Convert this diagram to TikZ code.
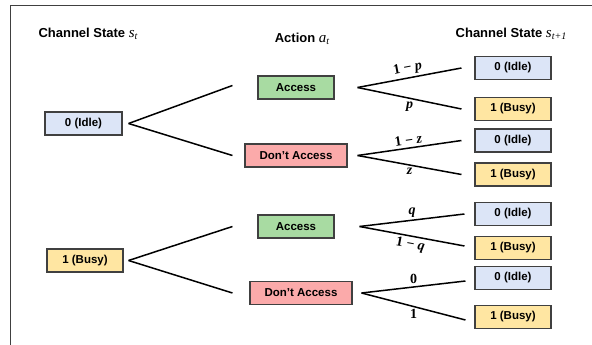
\documentclass[tikz,border=0pt]{standalone}
\usepackage{fontspec}
\setmainfont{Liberation Sans}
\newfontfamily\symbfont{Liberation Serif}

\definecolor{idleblue}{HTML}{DCE5F7}
\definecolor{busyyellow}{HTML}{FFE6A2}
\definecolor{accgreen}{HTML}{A8DBA2}
\definecolor{noaccred}{HTML}{FBAAAA}
\definecolor{edgegray}{HTML}{404040}

% italic symbol with a lowered index
\newcommand{\symbidx}[2]{{\symbfont\itshape\mdseries\fontsize{15}{17}\selectfont #1\raisebox{-0.3ex}{\fontsize{10}{11}\selectfont #2}}}
% numbers and variables on a branch
\newcommand{\probnum}[1]{{\symbfont\bfseries #1}}
\newcommand{\probvar}[1]{{\symbfont\bfseries\itshape #1}}

\tikzset{
    statebox/.style={
        rectangle,
        draw=edgegray, % dark grey outline
        line width=1.1pt,
        minimum width=76pt,
        minimum height=23pt,
        inner sep=0,
        font=\fontsize{11.5}{13}\selectfont\bfseries
    },
    idlenode/.style={statebox, fill=idleblue},
    busynode/.style={statebox, fill=busyyellow},
    accessnode/.style={statebox, fill=accgreen},
    noaccessnode/.style={statebox, fill=noaccred, minimum width=102pt},
    titlenode/.style={font=\fontsize{13}{15}\selectfont\bfseries, inner sep=0},
    branch/.style={line width=1.5pt},
    problabel/.style={font=\fontsize{14}{16}\selectfont, inner sep=2.5pt}
}

\begin{document}
\begin{tikzpicture}[x=1pt, y=-1pt]
    \useasboundingbox (0,0) rectangle (592,345);
    % frame on top and left
    \draw[edgegray, line width=1pt] (592,6) -- (10,6) -- (10,345);

    % column titles
    \node[titlenode] (tstate) at (88,34) {Channel State \symbidx{s}{t}};
    \node[titlenode] (taction) at (302,39) {Action \symbidx{a}{t}};
    \node[titlenode] (tnext) at (511,34) {Channel State \symbidx{s}{t+1}};

    % current state
    \node[idlenode, minimum width=77pt] (s0) at (83.5,123.5) {0 (Idle)};
    \node[busynode] (s1) at (85,260.5) {1 (Busy)};

    % actions
    \node[accessnode] (a0) at (296,87.5) {Access};
    \node[noaccessnode] (n0) at (296,155.5) {Don't Access};
    \node[accessnode] (a1) at (296,226.5) {Access};
    \node[noaccessnode] (n1) at (301,293) {Don't Access};

    % next state
    \node[idlenode] (i00) at (513,68) {0 (Idle)};
    \node[busynode] (b00) at (513,109) {1 (Busy)};
    \node[idlenode] (i01) at (513,140.5) {0 (Idle)};
    \node[busynode] (b01) at (513,174.5) {1 (Busy)};
    \node[idlenode] (i10) at (513,214) {0 (Idle)};
    \node[busynode] (b10) at (513,248) {1 (Busy)};
    \node[idlenode] (i11) at (513,278) {0 (Idle)};
    \node[busynode] (b11) at (513,317) {1 (Busy)};

    % fork points
    \coordinate (s0fork) at ([xshift=6pt]s0.east);
    \coordinate (s1fork) at ([xshift=5pt]s1.east);
    \coordinate (a0fork) at ([xshift=23pt]a0.east);
    \coordinate (n0fork) at ([xshift=10pt]n0.east);
    \coordinate (a1fork) at ([xshift=25pt]a1.east);
    \coordinate (n1fork) at ([xshift=9pt]n1.east);

    % state -> action
    \draw[branch] (s0fork) -- ([xshift=-25pt, yshift=2pt]a0.west);
    \draw[branch] (s0fork) -- ([xshift=-12pt]n0.west);
    \draw[branch] (s1fork) -- ([xshift=-25pt]a1.west);
    \draw[branch] (s1fork) -- ([xshift=-17pt]n1.west);

    % action -> next state
    \draw[branch] (a0fork) -- node[problabel, sloped, above] {\probnum{1 − }\probvar{p}} ([xshift=-13pt]i00.west);
    \draw[branch] (a0fork) -- node[problabel, below] {\probvar{p}} ([xshift=-13pt]b00.west);
    \draw[branch] (n0fork) -- node[problabel, sloped, above] {\probnum{1 − }\probvar{z}} ([xshift=-13pt]i01.west);
    \draw[branch] (n0fork) -- node[problabel, below] {\probvar{z}} ([xshift=-13pt]b01.west);
    \draw[branch] (a1fork) -- node[problabel, above] {\probvar{q}} ([xshift=-10pt]i10.west);
    \draw[branch] (a1fork) -- node[problabel, sloped, below] {\probnum{1 − }\probvar{q}} ([xshift=-10pt, yshift=2pt]b10.west);
    \draw[branch] (n1fork) -- node[problabel, above] {\probnum{0}} ([xshift=-9pt, yshift=-3pt]i11.west);
    \draw[branch] (n1fork) -- node[problabel, below] {\probnum{1}} ([xshift=-9pt, yshift=-3pt]b11.west);
\end{tikzpicture}
\end{document}
